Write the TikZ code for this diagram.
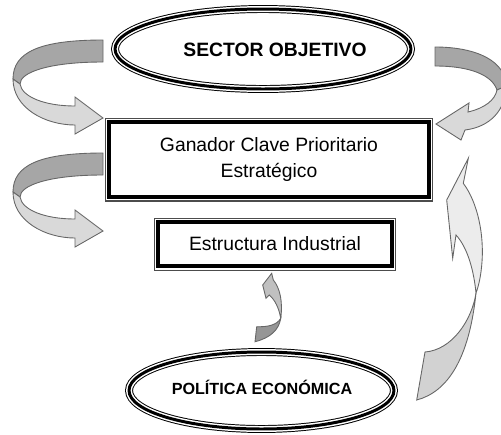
\documentclass[tikz,border=0pt]{standalone}
\usepackage{fontspec}
\setmainfont{Liberation Sans}
\usetikzlibrary{shapes.geometric}
\definecolor{bandback}{RGB}{166,166,166}
\definecolor{bandfront}{RGB}{217,217,217}
\definecolor{tallback}{RGB}{210,210,210}
\definecolor{tallfront}{RGB}{236,236,236}
\definecolor{smallback}{RGB}{150,150,150}
\definecolor{smallfront}{RGB}{192,192,192}

\begin{document}
\begin{tikzpicture}[x=0.02cm,y=-0.02cm,
  ring/.style={ellipse,draw=black,line width=4.5pt,inner sep=0pt,
    postaction={draw=white,line width=3.4pt},
    postaction={draw=black,line width=1.7pt}},
  rim/.style={rectangle,draw=black!70,line width=0.57pt,inner sep=0pt},
  box/.style={rectangle,draw=black,line width=2.27pt,inner sep=0pt,align=center,
    font=\fontsize{11pt}{15.3pt}\selectfont},
  band/.style={draw=black!60,line width=0.5pt,fill=#1}]
\clip (0,0) rectangle (501,434);
\foreach \dy in {0,113}{
  \begin{scope}[shift={(0,\dy)}]
  \filldraw[band=bandback] (103,40) .. controls (40,40) and (13,52) .. (13,79) -- (20,84) .. controls (20,72) and (50,62) .. (103,62) -- cycle;
  \filldraw[band=bandfront] (13,79) .. controls (13,108) and (45,125) .. (75,125) -- (75,134) -- (103,118) -- (75,97) -- (75,106) .. controls (45,106) and (22,97) .. (20,84) -- cycle;
  \end{scope}
}
\filldraw[band=bandback] (435,47) .. controls (478,47) and (506,62) .. (506,86) -- (497,90) .. controls (492,75) and (470,66) .. (435,66) -- cycle;
\filldraw[band=bandfront] (506,86) .. controls (506,110) and (490,127) .. (465,130) -- (461,140) -- (436,124) -- (469,103) -- (468,112) .. controls (485,108) and (495,100) .. (497,90) -- cycle;
\filldraw[band=tallfront] (476,293) .. controls (474,272) and (468,248) .. (456,235) -- (452.7,258.3) -- (446.7,200) -- (468.3,158.3) -- (463.3,183.3) .. controls (478,203) and (484,235) .. (482,262) .. controls (481,275) and (479,285) .. (476,293) -- cycle;
\filldraw[band=tallback] (476,293) .. controls (472,320) and (452,350) .. (425,352) -- (416.7,400) .. controls (447,392) and (469,360) .. (476,293) -- cycle;
\filldraw[band=smallfront] (280.7,318.3) .. controls (279,308) and (275,300) .. (269.3,295) -- (266,298.3) -- (262.7,285) -- (271.7,273.3) -- (273.3,280) .. controls (280,288) and (283,302) .. (280.7,318.3) -- cycle;
\filldraw[band=smallback] (280.7,318.3) .. controls (277,325) and (268,327) .. (256.7,326.7) -- (255,341.7) .. controls (270,338) and (279,330) .. (280.7,318.3) -- cycle;
\node[ring,minimum width=5.92cm,minimum height=1.6cm] (sector) at (263,49) {};
\node[font=\bfseries\fontsize{11pt}{13pt}\selectfont] (sectortext) at (275,50) {SECTOR OBJETIVO};
\node[rim,minimum width=6.56cm,minimum height=1.66cm] (ganadorrim) at (269,159.5) {};
\node[box,minimum width=6.4cm,minimum height=1.5cm] (ganador) at (269,159.5) {Ganador Clave Prioritario\\Estratégico};
\node[rim,minimum width=4.84cm,minimum height=1.04cm] (estructurarim) at (275,244) {};
\node[box,minimum width=4.68cm,minimum height=0.88cm] (estructura) at (275,244) {Estructura Industrial};
\node[ring,minimum width=5.3cm,minimum height=1.54cm] (politica) at (261.5,390.5) {};
\node[font=\bfseries\fontsize{9.2pt}{11pt}\selectfont,anchor=base] (politicatext) at (262,394) {POLÍTICA ECONÓMICA};
\end{tikzpicture}
\end{document}
